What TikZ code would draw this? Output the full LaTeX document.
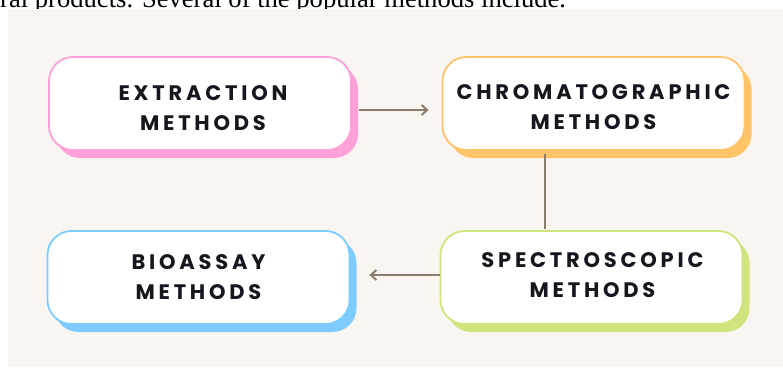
\documentclass[tikz,border=0pt]{standalone}
\usepackage{fontspec}
\setmainfont{Liberation Serif}
\newfontfamily\boxfont{Poppins}[LetterSpace=18]
\usetikzlibrary{arrows.meta,shadows,backgrounds}

\definecolor{panel}{HTML}{F9F5F0}
\definecolor{ink}{HTML}{16161F}
\definecolor{wire}{HTML}{8C7D6C}
\definecolor{pinkc}{HTML}{FFA0D8}
\definecolor{orangec}{HTML}{FFC468}
\definecolor{bluec}{HTML}{7DCBFF}
\definecolor{greenc}{HTML}{CFE47C}

\tikzset{
  card/.style={draw=#1, line width=1.8pt, fill=white, rounded corners=24pt,
    minimum width=302pt, minimum height=93pt, inner sep=0pt,
    drop shadow={shadow xshift=7pt, shadow yshift=-8pt, fill=#1, opacity=1}},
  cardtext/.style={inner sep=0pt, align=center, text=ink,
    font=\boxfont\bfseries\fontsize{21}{30}\selectfont},
  conn/.style={draw=wire, line width=2pt},
  tip/.style={conn, -{Straight Barb[length=5.5pt,width=10pt]}}
}

\begin{document}
\begin{tikzpicture}[x=1pt,y=-1pt]
\useasboundingbox (0,0) rectangle (783,367);

% lead-in sentence, cut by the top edge, and the panel behind the cards
\begin{scope}[on background layer]
  \node[anchor=base west, inner sep=0pt, font=\fontsize{26.6}{30}\selectfont] (lead) at (0,7.6)
    {ral products. Several of the popular methods include.};
  \fill[panel] (8,9.3) rectangle (783,367);
\end{scope}

% method cards
\node[card=pinkc]   (ext)   at (200,103.5)   {};
\node[card=orangec] (chrom) at (593.5,103.5) {};
\node[card=bluec]   (bio)   at (198.5,277.5) {};
\node[card=greenc]  (spec)  at (591.5,277.5) {};

% card titles
\node[cardtext] (extT)   at ([shift={(3,5)}]ext.center)     {EXTRACTION\\METHODS};
\node[cardtext] (chromT) at ([shift={(0,3.5)}]chrom.center) {CHROMATOGRAPHIC\\METHODS};
\node[cardtext] (bioT)   at ([shift={(0,-0.5)}]bio.center)  {BIOASSAY\\METHODS};
\node[cardtext] (specT)  at ([shift={(1,-2.5)}]spec.center) {SPECTROSCOPIC\\METHODS};

% connectors
\draw[tip]  ([shift={(7,6.5)}]ext.east) -- ([shift={(-13,6.5)}]chrom.west);
\draw[conn] ([shift={(-48.5,3)}]chrom.south) -- ([shift={(-46.5,-1)}]spec.north);
\draw[tip]  ([shift={(0,-2.5)}]spec.west) -- ([shift={(19,-2.5)}]bio.east);
\end{tikzpicture}
\end{document}
